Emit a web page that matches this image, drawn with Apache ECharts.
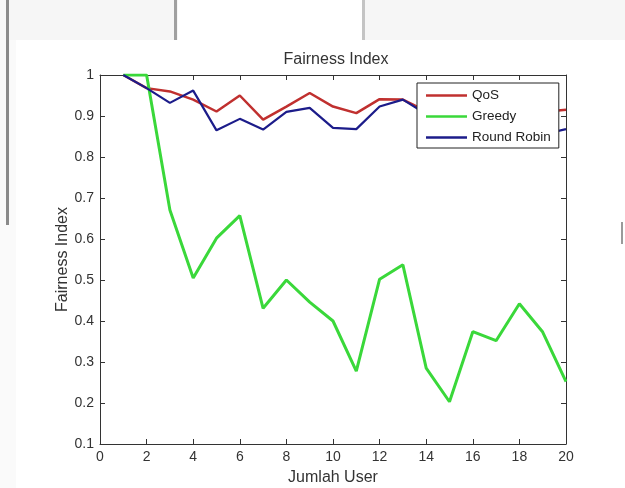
<!DOCTYPE html>
<html>
<head>
<meta charset="utf-8">
<script src="https://cdn.jsdelivr.net/npm/echarts@6/dist/echarts.min.js"></script>
<style>html,body{margin:0;padding:0;background:#fff}#c{width:625px;height:488px}</style>
</head>
<body>
<div id="c"></div>
<script>
var users = [1,2,3,4,5,6,7,8,9,10,11,12,13,14,15,16,17,18,19,20];
var qos = [1,0.968,0.960,0.940,0.911,0.950,0.891,0.923,0.956,0.923,0.907,0.941,0.940,0.912,0.920,0.930,0.922,0.928,0.910,0.915];
var greedy = [1,1,0.671,0.505,0.602,0.657,0.431,0.500,0.446,0.400,0.278,0.502,0.537,0.285,0.203,0.374,0.352,0.442,0.373,0.252];
var roundRobin = [1,0.968,0.932,0.962,0.865,0.893,0.867,0.910,0.920,0.871,0.868,0.923,0.940,0.905,0.910,0.900,0.890,0.905,0.855,0.868];
var yTicks = ['0.1','0.2','0.3','0.4','0.5','0.6','0.7','0.8','0.9','1'];

function pairs(ys){ return users.map(function(x,i){ return [x, ys[i]]; }); }
var font = 'Arial, "Liberation Sans", sans-serif';
var chart = echarts.init(document.getElementById('c'), null, {renderer:'canvas'});
var axisLine = {show:true, onZero:false, lineStyle:{color:'#333', width:1}};
var tick = {show:true, inside:true, length:5, lineStyle:{color:'#333', width:1}};
chart.setOption({
  backgroundColor:'#fff',
  animation:false,
  graphic:[
    {type:'rect', shape:{x:0,y:0,width:178,height:40}, style:{fill:'#f6f6f6'}, z:-10},
    {type:'rect', shape:{x:362,y:0,width:263,height:40}, style:{fill:'#f6f6f6'}, z:-10},
    {type:'rect', shape:{x:0,y:40,width:16,height:448}, style:{fill:'#fafafa'}, z:-10},
    {type:'rect', shape:{x:6,y:0,width:3,height:225}, style:{fill:'#8a8a8a'}, z:-9},
    {type:'rect', shape:{x:174,y:0,width:3,height:40}, style:{fill:'#a0a0a0'}, z:-9},
    {type:'rect', shape:{x:362,y:0,width:3,height:40}, style:{fill:'#c4c4c4'}, z:-9},
    {type:'rect', shape:{x:621,y:222,width:2,height:22}, style:{fill:'#9a9a9a'}, z:-9}
  ],
  title:{text:'Fairness Index', left:331, top:47, textAlign:'center',
    textStyle:{fontFamily:font, fontSize:16, fontWeight:'normal', color:'#333'}},
  grid:{left:100, right:59, top:75, bottom:44, containLabel:false, outerBoundsMode:'none'},
  legend:{
    orient:'vertical', left:417, top:83,
    data:['QoS','Greedy','Round Robin'],
    icon:'rect',
    backgroundColor:'#fff', borderColor:'#222', borderWidth:1,
    padding:[5,8,3,9], itemWidth:41, itemHeight:2.5, itemGap:6, itemTextGap:4,
    textStyle:{fontFamily:font, fontSize:13.5, color:'#222', lineHeight:15},
    z:10
  },
  xAxis:[
    {type:'value', min:0, max:20, interval:2, position:'bottom',
     name:'Jumlah User', nameLocation:'middle', nameGap:26, nameMoveOverlap:false,
     nameTextStyle:{fontFamily:font, fontSize:16, color:'#333'},
     axisLine:axisLine, axisTick:tick,
     axisLabel:{fontFamily:font, fontSize:14, color:'#333', margin:6},
     splitLine:{show:false}},
    {type:'value', min:0, max:20, interval:2, position:'top',
     axisLine:axisLine, axisTick:tick,
     axisLabel:{show:false}, splitLine:{show:false}}
  ],
  yAxis:[
    {type:'value', min:0.1, max:1, interval:0.1, position:'left',
     name:'Fairness Index', nameLocation:'middle', nameGap:29, nameMoveOverlap:false,
     nameTextStyle:{fontFamily:font, fontSize:16, color:'#333'},
     axisLine:axisLine, axisTick:tick,
     axisLabel:{fontFamily:font, fontSize:14, color:'#333', margin:6,
       formatter:function(v){ var i=Math.round(v*10)-1; return yTicks[i]; }},
     splitLine:{show:false}},
    {type:'value', min:0.1, max:1, interval:0.1, position:'right',
     axisLine:axisLine, axisTick:tick,
     axisLabel:{show:false}, splitLine:{show:false}}
  ],
  series:[
    {name:'QoS', type:'line', data:pairs(qos), symbol:'none', lineStyle:{color:'#c0302f', width:2.5}, itemStyle:{color:'#c0302f'}},
    {name:'Greedy', type:'line', data:pairs(greedy), symbol:'none', lineStyle:{color:'#3ad83a', width:3}, itemStyle:{color:'#3ad83a'}},
    {name:'Round Robin', type:'line', data:pairs(roundRobin), symbol:'none', lineStyle:{color:'#1c1c8a', width:2.2}, itemStyle:{color:'#1c1c8a'}}
  ]
});
</script>
</body>
</html>
